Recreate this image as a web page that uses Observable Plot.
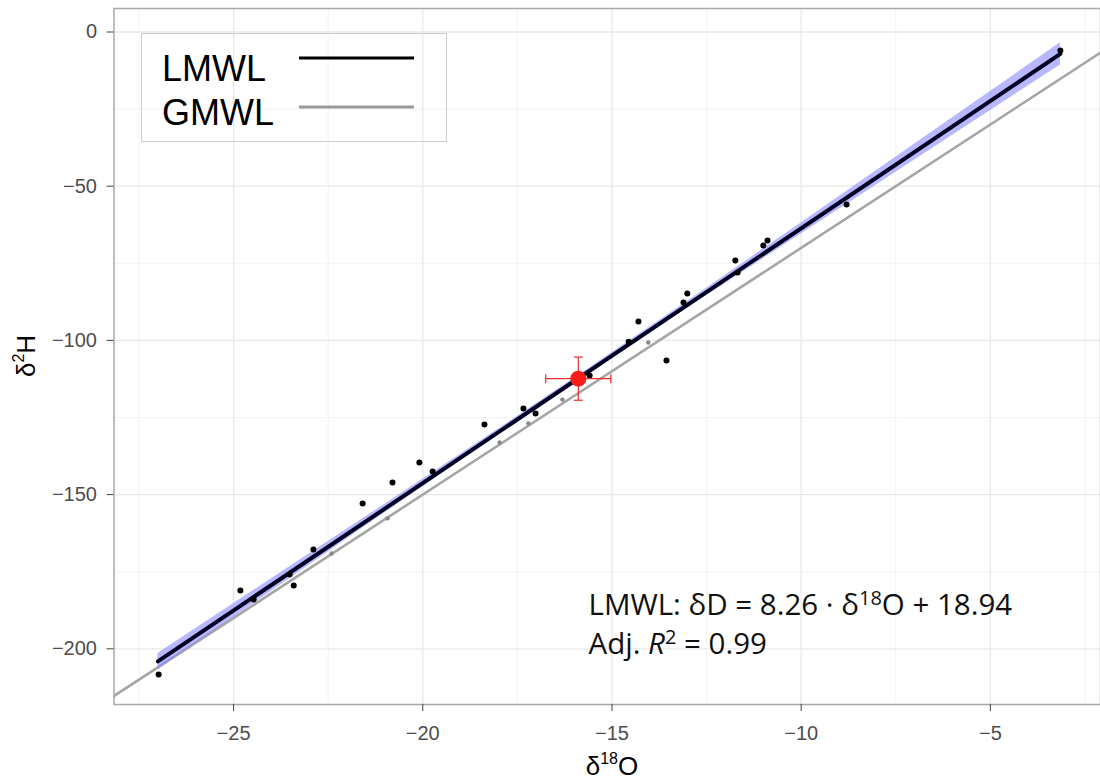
<!DOCTYPE html>
<html><head><meta charset="utf-8">
<script src="https://cdn.jsdelivr.net/npm/d3@7"></script>
<script src="https://cdn.jsdelivr.net/npm/@observablehq/plot@0.6"></script>
<style>
body{margin:0;background:#fff;}
#wrap{position:relative;width:1100px;height:780px;overflow:hidden;}
#legend{position:absolute;left:141px;top:33px;width:304px;height:107px;border:1.5px solid #cccccc;font-family:"Liberation Sans",Arial,sans-serif;color:#000;}
#legend svg{position:absolute;left:0;top:0;}
</style></head><body><div id="wrap"></div>
<script>
// Black sample points (δ18O, δ2H)
const sampleX = [-26.98,-24.82,-24.47,-23.52,-23.41,-22.89,-21.59,-20.80,-20.09,-19.74,-18.37,-17.34,-17.02,-15.59,-14.56,-14.30,-13.56,-13.11,-13.01,-11.74,-11.68,-11.00,-10.89,-8.80,-3.15];
const sampleY = [-208.3,-181.1,-184.0,-175.9,-179.5,-167.8,-152.9,-146.1,-139.6,-142.5,-127.3,-122.1,-123.7,-111.4,-100.4,-93.9,-106.5,-87.7,-84.8,-74.1,-78.0,-69.2,-67.6,-55.9,-6.0];
// Small grey points lying on the GMWL
const greyX = [-22.41,-20.93,-17.97,-17.21,-16.31,-14.04];
const greyY = [-169.1,-157.7,-133.1,-126.9,-119.2,-100.7];
// Mean with error bars
const meanX = [-15.89];
const meanY = [-112.4];
const meanXErr = [0.86];
const meanYErr = [7.0];
// LMWL fit line endpoints and confidence band
const lmwlX = [-27.0, -3.15];
const lmwlY = [-204.1, -7.1];
const bandX = [-27, -24, -21, -18, -15.9, -13, -10, -7, -3.15];
const bandLow = [-206.7, -181.3, -155.9, -130.7, -113.2, -89.5, -65.5, -41.5, -10.7];
const bandHigh = [-201.5, -177.3, -153.1, -128.7, -111.5, -87.3, -61.9, -36.3, -3.5];
// GMWL line (δD = 8·δ18O + 10), extended across panel
const gmwlX = [-30, 0];
const gmwlY = [-230, 10];
// Axis ticks and grid
const xTicks = [-25, -20, -15, -10, -5];
const xMinor = [-27.5, -22.5, -17.5, -12.5, -7.5, -2.5];
const yTicks = [0, -50, -100, -150, -200];
const yMinor = [-25, -75, -125, -175];
// Annotation
const annX = [-15.62, -15.62];
const annY = [-189.2, -201.8];
const annText = ["EQN", "R2"];

const fmt = d => d < 0 ? "\u2212" + Math.abs(d) : String(d);
const pts = sampleX.map((x, i) => ({x, y: sampleY[i]}));
const grey = greyX.map((x, i) => ({x, y: greyY[i]}));
const mean = meanX.map((x, i) => ({x, y: meanY[i], ex: meanXErr[i], ey: meanYErr[i]}));
const band = bandX.map((x, i) => ({x, lo: bandLow[i], hi: bandHigh[i]}));
const lmwl = lmwlX.map((x, i) => ({x, y: lmwlY[i]}));
const gmwl = gmwlX.map((x, i) => ({x, y: gmwlY[i]}));
const ann = annX.map((x, i) => ({x, y: annY[i], t: annText[i]}));

const vcap = {draw(ctx, size) { ctx.moveTo(0, -4.5); ctx.lineTo(0, 4.5); }};
const hcap = {draw(ctx, size) { ctx.moveTo(-4.5, 0); ctx.lineTo(4.5, 0); }};

const plot = Plot.plot({
  width: 1100, height: 780,
  marginLeft: 113.5, marginRight: 0, marginTop: 8, marginBottom: 76,
  style: {fontFamily: "'Liberation Sans', Arial, sans-serif", fontSize: "20px", color: "#4d4d4d", background: "#fff"},
  x: {domain: [-28.16, -2.09]},
  y: {domain: [-218.06, 7.62]},
  marks: [
    Plot.gridX(xMinor, {stroke: "#f3f3f3", strokeOpacity: 1, strokeWidth: 1}),
    Plot.gridY(yMinor, {stroke: "#f3f3f3", strokeOpacity: 1, strokeWidth: 1}),
    Plot.gridX(xTicks, {stroke: "#e8e8e8", strokeOpacity: 1, strokeWidth: 1.3}),
    Plot.gridY(yTicks, {stroke: "#e8e8e8", strokeOpacity: 1, strokeWidth: 1.3}),
    Plot.line(gmwl, {x: "x", y: "y", stroke: "#a6a6a6", strokeWidth: 2.6, clip: true}),
    Plot.dot(grey, {x: "x", y: "y", r: 2.2, fill: "#888", stroke: "none"}),
    Plot.areaY(band, {x: "x", y1: "lo", y2: "hi", fill: "#8888ff", fillOpacity: 0.6}),
    Plot.line(lmwl, {x: "x", y: "y", stroke: "#000022", strokeWidth: 4}),
    Plot.dot(pts, {x: "x", y: "y", r: 3, fill: "#000", stroke: "none"}),
    Plot.link(mean, {x1: d => d.x - d.ex, x2: d => d.x + d.ex, y1: "y", y2: "y", stroke: "#ee2a2a", strokeWidth: 1.2}),
    Plot.link(mean, {x1: "x", x2: "x", y1: d => d.y - d.ey, y2: d => d.y + d.ey, stroke: "#ee2a2a", strokeWidth: 1.2}),
    Plot.dot(mean, {x: d => d.x - d.ex, y: "y", symbol: vcap, stroke: "#ee2a2a", strokeWidth: 1.2, fill: "none"}),
    Plot.dot(mean, {x: d => d.x + d.ex, y: "y", symbol: vcap, stroke: "#ee2a2a", strokeWidth: 1.2, fill: "none"}),
    Plot.dot(mean, {x: "x", y: d => d.y - d.ey, symbol: hcap, stroke: "#ee2a2a", strokeWidth: 1.2, fill: "none"}),
    Plot.dot(mean, {x: "x", y: d => d.y + d.ey, symbol: hcap, stroke: "#ee2a2a", strokeWidth: 1.2, fill: "none"}),
    Plot.dot(mean, {x: "x", y: "y", r: 8, fill: "#ff1a1a", stroke: "none"}),
    Plot.text(ann, {x: "x", y: "y", text: "t", textAnchor: "start", lineAnchor: "bottom", fill: "#111", fontSize: 29.5, fontFamily: "'Open Sans', sans-serif"}),
    Plot.frame({stroke: "#a8a8a8", strokeWidth: 1.5}),
    Plot.axisX(xTicks, {tickFormat: fmt, tickSize: 7, tickPadding: 14, label: null, stroke: "#444", fill: "#4d4d4d", fontSize: 20}),
    Plot.axisY(yTicks, {tickFormat: fmt, tickSize: 7, tickPadding: 10, label: null, stroke: "#444", fill: "#4d4d4d", fontSize: 20})
  ]
});

const svg = d3.select(plot);
const tickLabelSet = new Set([...xTicks, ...yTicks].map(fmt));
svg.selectAll("text").each(function() {
  const t = this.textContent;
  if (t === "EQN") {
    this.innerHTML = 'LMWL: \u03b4D = 8.26 \u00b7 \u03b4<tspan font-size="20" dy="-10">18</tspan><tspan dy="10">O + 18.94</tspan>';
  } else if (t === "R2") {
    this.innerHTML = 'Adj. <tspan font-style="italic">R</tspan><tspan font-size="20" dy="-10">2</tspan><tspan dy="10"> = 0.99</tspan>';
  } else if (tickLabelSet.has(t)) {
    this.setAttribute("font-size", 20);
    this.style.fontSize = "20px";
  }
});
// Axis titles
svg.append("text").attr("x", 612).attr("y", 775).attr("text-anchor", "middle")
  .attr("font-family", "'Liberation Sans', Arial, sans-serif").attr("font-size", 26).attr("fill", "#000")
  .html('\u03b4<tspan font-size="16" dy="-11">18</tspan><tspan dy="11">O</tspan>');
svg.append("text").attr("transform", "translate(35,356) rotate(-90)").attr("text-anchor", "middle")
  .attr("font-family", "'Liberation Sans', Arial, sans-serif").attr("font-size", 26).attr("fill", "#000")
  .html('\u03b4<tspan font-size="16" dy="-11">2</tspan><tspan dy="11">H</tspan>');

const wrap = document.getElementById("wrap");
wrap.appendChild(plot);

// Legend
const legendItems = ["LMWL", "GMWL"];
const legendColors = ["#000", "#999"];
const leg = document.createElement("div");
leg.id = "legend";
let html = '<svg width="304" height="107">';
legendItems.forEach((k, i) => {
  const y = i === 0 ? 24 : 73;
  html += `<line x1="157" x2="272" y1="${y}" y2="${y}" stroke="${legendColors[i]}" stroke-width="3.2"/>`;
  html += `<text x="20" y="${i === 0 ? 47 : 91}" font-size="36" font-family="'Liberation Sans', Arial, sans-serif" fill="#000">${k}</text>`;
});
html += '</svg>';
leg.innerHTML = html;
wrap.appendChild(leg);
</script>
</body></html>
